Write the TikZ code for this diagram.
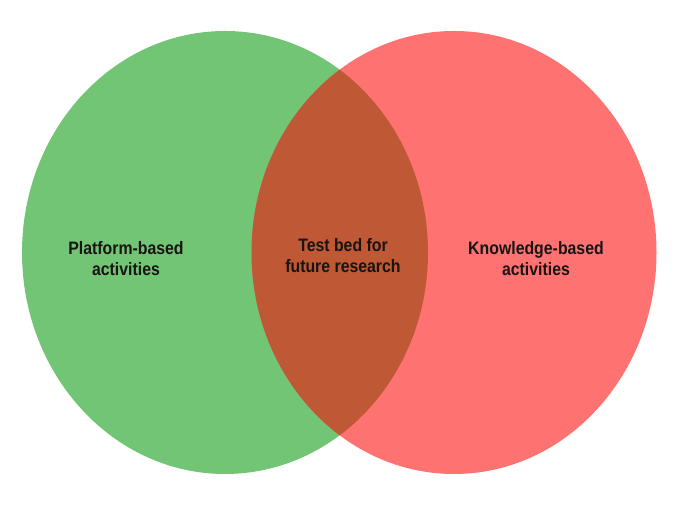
\documentclass[tikz,border=0pt]{standalone}
\usepackage{fontspec}
\setmainfont{Liberation Sans}
\usepackage{tikz}
\usetikzlibrary{positioning}
\definecolor{platformgreen}{RGB}{114,197,116}
\definecolor{knowledgered}{RGB}{255,114,114}
\definecolor{overlapbrown}{RGB}{191,88,52}
\definecolor{labeltext}{RGB}{24,20,18}
\tikzset{
  setlabel/.style={align=center,text=labeltext,xscale=0.88,transform shape,
    font=\fontsize{18}{21}\selectfont\bfseries,inner sep=0pt}
}
\begin{document}
\begin{tikzpicture}[x=1pt,y=1pt]
  \useasboundingbox (0,0) rectangle (690,510);
  \fill[platformgreen] (225,257.5) ellipse [x radius=203,y radius=221.5];
  \fill[knowledgered] (454,257.5) ellipse [x radius=202.5,y radius=221.5];
  \begin{scope}
    \clip (225,257.5) ellipse [x radius=203,y radius=221.5];
    \fill[overlapbrown] (454,257.5) ellipse [x radius=202.5,y radius=221.5];
  \end{scope}
  \node[setlabel] (platform) at (126,251) {Platform-based\\activities};
  \node[setlabel] (testbed) at (343,254) {Test bed for\\future research};
  \node[setlabel] (knowledge) at (536,251) {Knowledge-based\\activities};
\end{tikzpicture}
\end{document}
